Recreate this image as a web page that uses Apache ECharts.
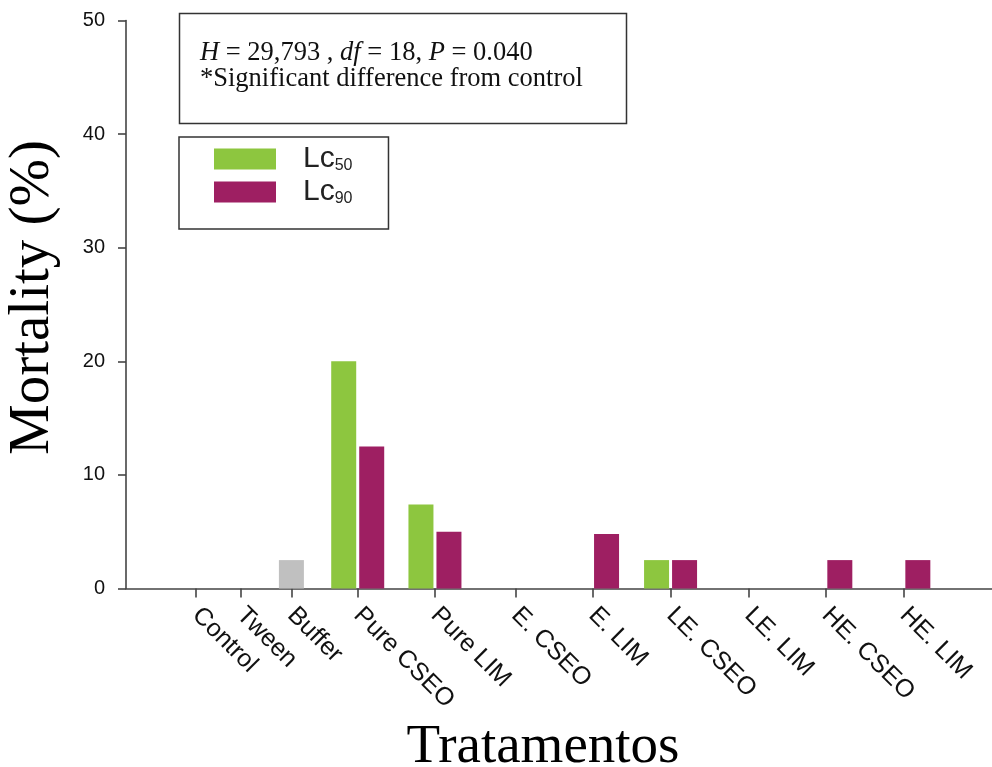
<!DOCTYPE html>
<html><head><meta charset="utf-8">
<script src="https://cdn.jsdelivr.net/npm/echarts@6/dist/echarts.min.js"></script>
<style>html,body{margin:0;padding:0;background:#fff}#c{width:992px;height:767px}</style>
</head><body><div id="c"></div>
<script>
// Treatment categories and their positions along the x axis (data units)
const categories = ['Control', 'Tween', 'Buffer', 'Pure CSEO', 'Pure LIM', 'E. CSEO', 'E. LIM', 'LE. CSEO', 'LE. LIM', 'HE. CSEO', 'HE. LIM'];
const catPos = [0.9, 1.47, 2.12, 2.97, 3.96, 4.99, 5.98, 6.98, 7.98, 8.97, 9.97];
// Mortality (%) values
const lc50 = [0, 0, 0, 20, 7.4, 0, 0, 2.5, 0, 0, 0];
const lc90 = [0, 0, 0, 12.5, 5, 0, 4.8, 2.5, 0, 2.5, 2.5];
const vehicle = [0, 0, 2.5, 0, 0, 0, 0, 0, 0, 0, 0];
const yMin = 0, yMax = 50, yStep = 10;
const statsLine = '{i|H} = 29,793 , {i|df} = 18, {i|P} = 0.040';
const noteLine = '*Significant difference from control';

const pairs = arr => arr.map((v, i) => [catPos[i], v]);
const AXIS = '#444';
const SERIF = 'Liberation Serif';
const SANS = 'Liberation Sans';

const chart = echarts.init(document.getElementById('c'));
chart.setOption({
  animation: false,
  grid: { left: 126, right: 0, top: 20.5, bottom: 178.5, containLabel: false, outerBoundsMode: 'none' },
  xAxis: [{
    type: 'value', min: 0, max: 11.1,
    splitLine: { show: false },
    axisLine: { show: true, onZero: false, lineStyle: { color: AXIS, width: 1.6 } },
    axisTick: { show: true, length: 9, customValues: catPos, lineStyle: { color: AXIS, width: 1.6 } },
    axisLabel: {
      customValues: catPos, rotate: -45, margin: 23, padding: [20, 0, 0, 0],
      fontFamily: SANS, fontSize: 25, color: '#111',
      formatter: v => categories[catPos.indexOf(v)]
    },
    name: 'Tratamentos', nameLocation: 'middle', nameGap: 130,
    nameTextStyle: { fontFamily: SERIF, fontSize: 55, color: '#000', padding: [0, 32, 0, 0] }
  }, {
    type: 'value', min: 0, max: 11.1, show: false
  }],
  yAxis: {
    type: 'value', min: yMin, max: yMax, interval: yStep,
    splitLine: { show: false },
    axisLine: { show: true, lineStyle: { color: AXIS, width: 1.6 } },
    axisTick: { show: true, length: 8, lineStyle: { color: AXIS, width: 1.6 } },
    axisLabel: { fontFamily: SANS, fontSize: 20, color: '#111', margin: 21 },
    name: 'Mortality (%)', nameLocation: 'middle', nameRotate: 90, nameGap: 64,
    nameTextStyle: { fontFamily: SERIF, fontSize: 57, color: '#000', padding: [0, 0, 0, 14] }
  },
  legend: {
    orient: 'vertical', left: 179, top: 137,
    padding: [7, 36, 22, 35], itemGap: 3,
    itemWidth: 62, itemHeight: 21, icon: 'rect',
    borderColor: '#333', borderWidth: 1.5,
    data: ['Lc50', 'Lc90'],
    formatter: name => '{m|Lc}{s|' + name.slice(2) + '}',
    textStyle: {
      rich: {
        m: { fontFamily: SANS, fontSize: 30, lineHeight: 30, color: '#222', padding: [0, 0, 0, 22] },
        s: { fontFamily: SANS, fontSize: 16, lineHeight: 10, color: '#222', verticalAlign: 'bottom' }
      }
    }
  },
  graphic: [
    { type: 'rect', shape: { x: 179.5, y: 13.5, width: 447, height: 110 },
      style: { fill: 'none', stroke: '#333', lineWidth: 1.5 } },
    { type: 'text', x: 200, y: 40,
      style: {
        text: statsLine + '\n' + noteLine,
        fontFamily: SERIF, fontSize: 26.5, lineHeight: 26, fill: '#111', verticalAlign: 'top',
        rich: { i: { fontFamily: SERIF, fontSize: 26.5, lineHeight: 26, fontStyle: 'italic', fill: '#111' } }
      } }
  ],
  series: [
    { name: 'Lc50', type: 'bar', barWidth: 25, barGap: '12%', data: pairs(lc50),
      itemStyle: { color: '#8DC63F' } },
    { name: 'Lc90', type: 'bar', barWidth: 25, barGap: '12%', data: pairs(lc90),
      itemStyle: { color: '#9E1F62' } },
    { name: 'Buffer', type: 'bar', xAxisIndex: 1, barWidth: 25, data: pairs(vehicle),
      itemStyle: { color: '#C0C0C0' } }
  ]
});
</script></body></html>
